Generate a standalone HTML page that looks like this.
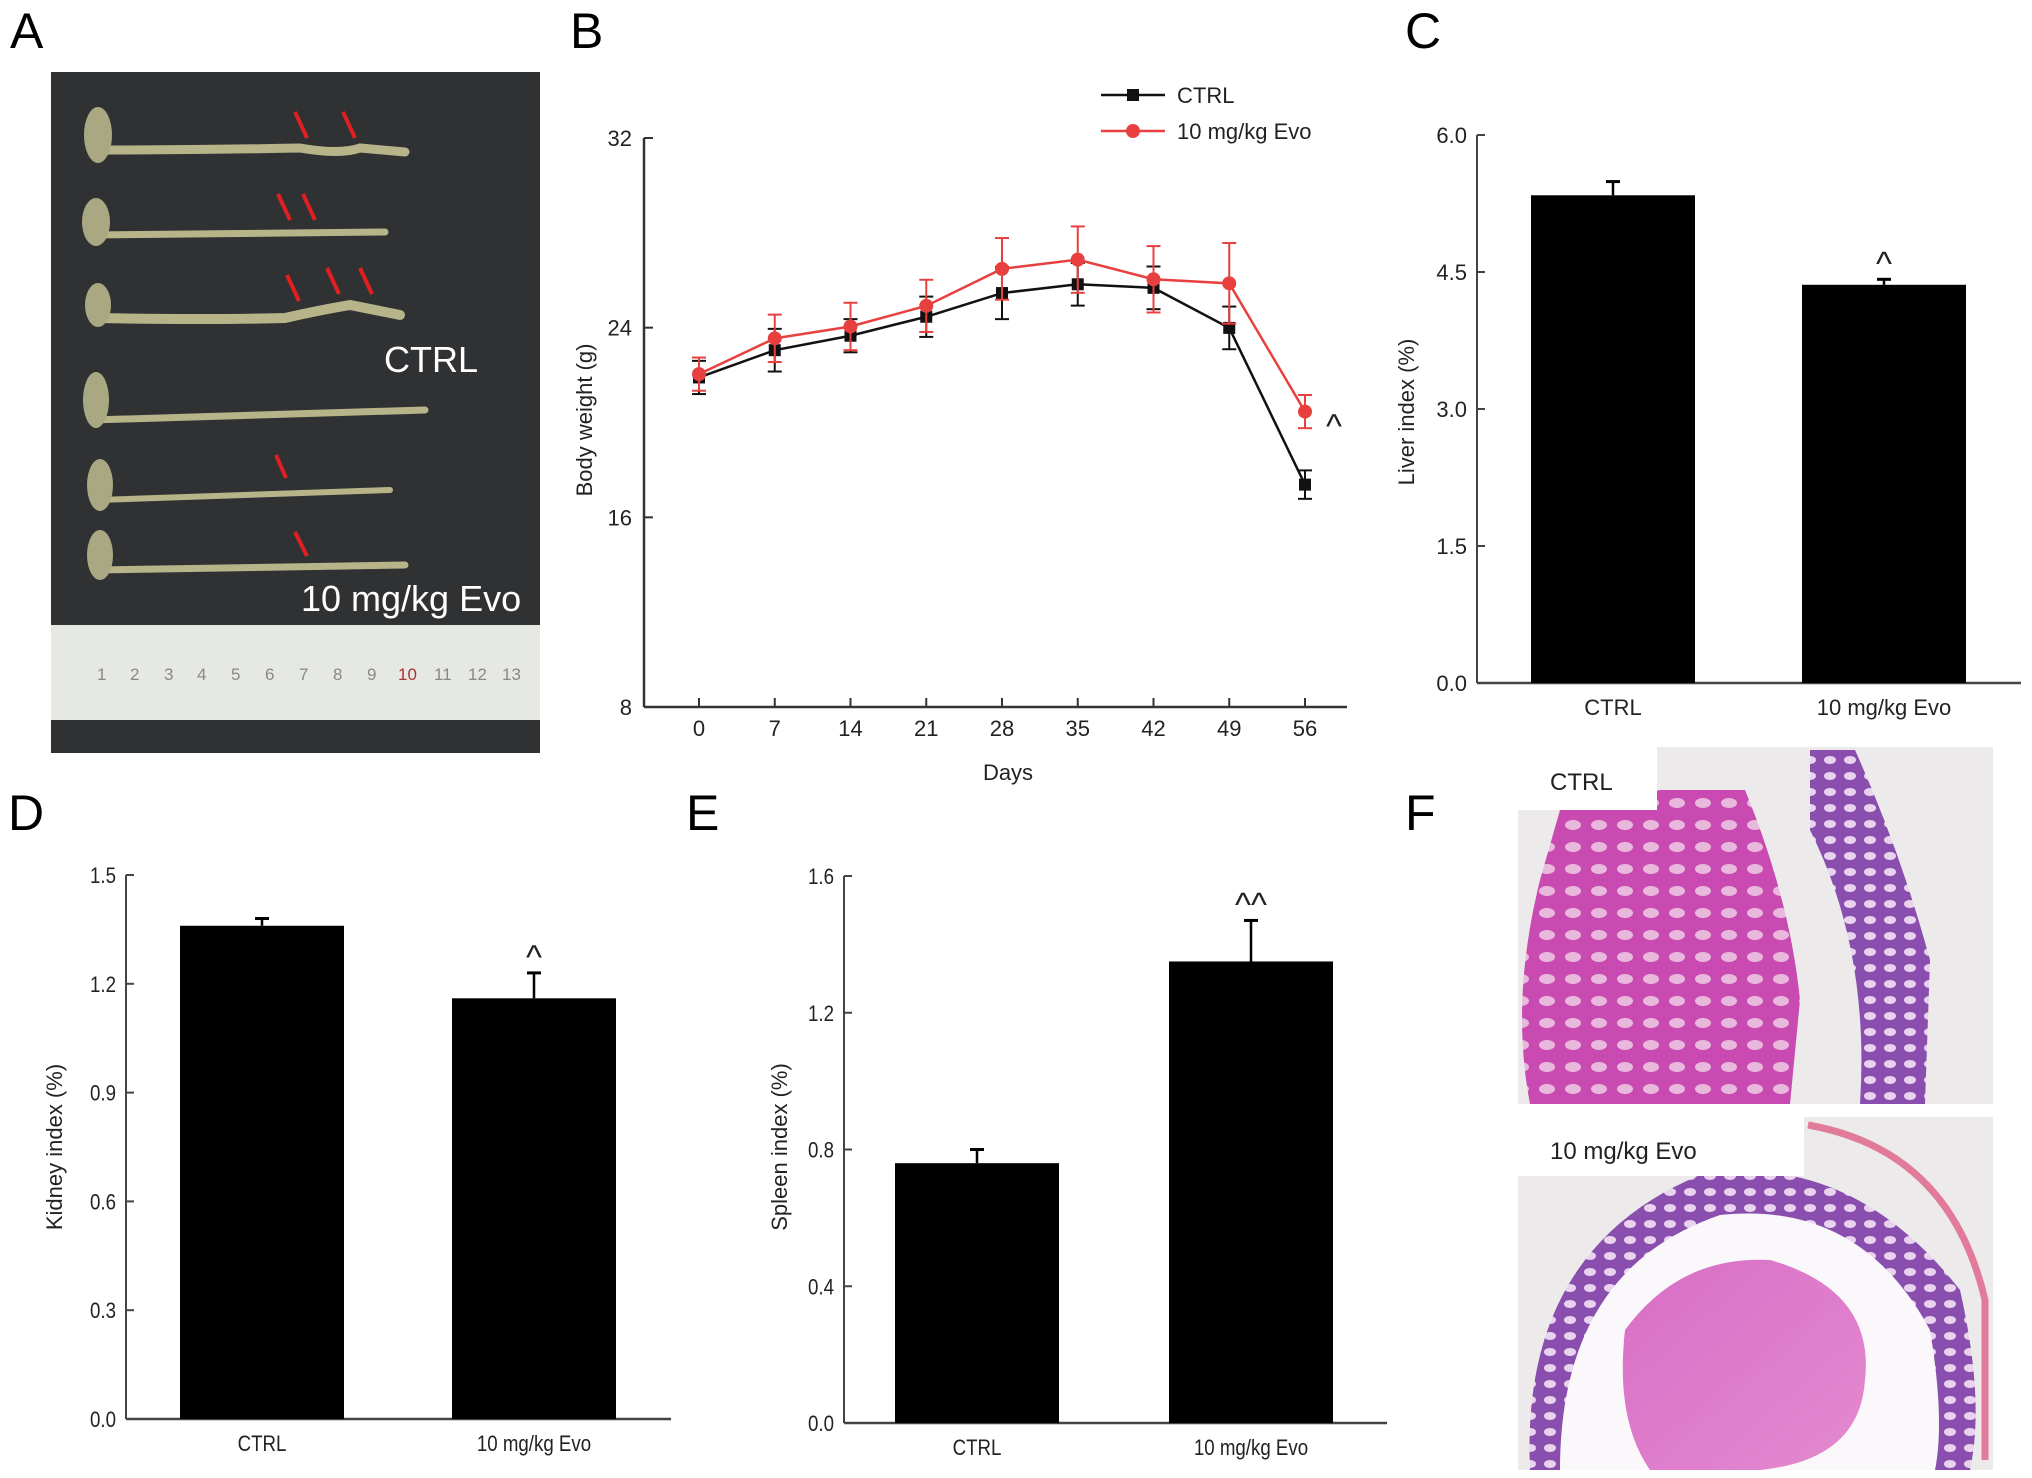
<!DOCTYPE html>
<html><head><meta charset="utf-8"><style>
html,body{margin:0;padding:0;background:#fff;}
svg{display:block;font-family:"Liberation Sans",Arial,sans-serif;}
</style></head><body>
<svg id="fig" width="2032" height="1478" viewBox="0 0 2032 1478">
<defs>
<pattern id="crypt" width="26" height="22" patternUnits="userSpaceOnUse">
<rect width="26" height="22" fill="#c94ab0"/>
<ellipse cx="13" cy="11" rx="8" ry="5" fill="#e8b9dc"/>
</pattern>
<pattern id="crypt2" width="20" height="16" patternUnits="userSpaceOnUse">
<rect width="20" height="16" fill="#8a4fae"/>
<ellipse cx="10" cy="8" rx="6" ry="4" fill="#e9d3ee"/>
</pattern>
<linearGradient id="tissue" x1="0" y1="0" x2="1" y2="1"><stop offset="0" stop-color="#d86ec6"/><stop offset="1" stop-color="#e48ad0"/></linearGradient>
</defs>

<text x="10" y="48" font-size="50">A</text>
<text x="570" y="48" font-size="50">B</text>
<text x="1405" y="48" font-size="50">C</text>
<text x="8" y="830" font-size="50">D</text>
<text x="686" y="830" font-size="50">E</text>
<text x="1405" y="830" font-size="50">F</text>

<g>
<rect x="51" y="72" width="489" height="681" fill="#2f3133"/>
<rect x="51" y="625" width="489" height="95" fill="#e6e8e4"/>
<g font-size="17" fill="#888">
<text x="97" y="680">1</text><text x="130" y="680">2</text><text x="164" y="680">3</text><text x="197" y="680">4</text><text x="231" y="680">5</text><text x="265" y="680">6</text><text x="299" y="680">7</text><text x="333" y="680">8</text><text x="367" y="680">9</text><text x="398" y="680" fill="#a33">10</text><text x="434" y="680">11</text><text x="468" y="680">12</text><text x="502" y="680">13</text>
</g>
<g fill="none" stroke="#b8b48a" stroke-linecap="round">
<path d="M100 150 Q200 150 300 148 Q340 155 360 148 L405 152" stroke-width="9"/>
<path d="M92 235 L385 232" stroke-width="7"/>
<path d="M95 318 Q200 320 285 318 Q320 310 350 305 L400 315" stroke-width="10"/>
<path d="M92 420 L425 410" stroke-width="7"/>
<path d="M98 500 L390 490" stroke-width="6"/>
<path d="M98 570 L405 565" stroke-width="7"/>
</g>
<g fill="#aaa882">
<ellipse cx="98" cy="135" rx="14" ry="28"/><ellipse cx="96" cy="222" rx="14" ry="24"/><ellipse cx="98" cy="305" rx="13" ry="22"/><ellipse cx="96" cy="400" rx="13" ry="28"/><ellipse cx="100" cy="485" rx="13" ry="26"/><ellipse cx="100" cy="555" rx="13" ry="25"/>
</g>
<g stroke="#e02020" stroke-width="4">
<line x1="295" y1="112" x2="307" y2="138"/><line x1="343" y1="112" x2="355" y2="138"/>
<line x1="278" y1="194" x2="290" y2="220"/><line x1="303" y1="194" x2="315" y2="220"/>
<line x1="287" y1="275" x2="299" y2="301"/><line x1="327" y1="268" x2="339" y2="294"/><line x1="360" y1="268" x2="372" y2="294"/>
<line x1="276" y1="455" x2="286" y2="478"/>
<line x1="295" y1="532" x2="307" y2="556"/>
</g>
<text x="384" y="372" font-size="36" fill="#fff">CTRL</text>
<text x="301" y="611" font-size="36" fill="#fff">10 mg/kg Evo</text>
</g>

<g id="chartB"></g>
<g id="chartC"></g>
<g id="chartD"></g>
<g id="chartE"></g>

<g>
<rect x="1518" y="747" width="475" height="357" fill="#eceaea"/>
<path d="M1560 810 L1660 790 L1745 790 Q1790 900 1800 1000 L1790 1104 L1530 1104 Q1510 1000 1540 880 Z" fill="url(#crypt)"/>
<path d="M1810 750 L1855 750 Q1900 850 1930 960 L1925 1104 L1860 1104 Q1870 950 1810 830 Z" fill="url(#crypt2)"/>
<rect x="1518" y="747" width="139" height="63" fill="#fff"/>
<text x="1550" y="790" font-size="24" fill="#222">CTRL</text>
</g>
<g>
<rect x="1518" y="1117" width="475" height="353" fill="#eceaea"/>
<path d="M1530 1470 Q1520 1250 1700 1175 Q1850 1150 1960 1290 Q1985 1400 1970 1470 Z" fill="url(#crypt2)"/>
<path d="M1560 1470 Q1560 1270 1720 1215 Q1860 1200 1930 1330 Q1945 1420 1935 1470 Z" fill="#fbf8fb"/>
<path d="M1625 1330 Q1680 1255 1770 1260 Q1875 1290 1865 1380 Q1860 1460 1760 1470 L1650 1470 Q1615 1420 1625 1330 Z" fill="url(#tissue)"/>
<path d="M1808 1125 Q1950 1150 1985 1300 L1985 1460" fill="none" stroke="#e27a9a" stroke-width="7"/>
<rect x="1518" y="1117" width="286" height="59" fill="#fff"/>
<text x="1550" y="1159" font-size="24" fill="#222">10 mg/kg Evo</text>
</g>
</svg>
<script>
const NS='http://www.w3.org/2000/svg';
function mk(parent,tag,attrs,text){const e=document.createElementNS(NS,tag);for(const k in attrs)e.setAttribute(k,attrs[k]);if(text!==undefined)e.textContent=text;parent.appendChild(e);return e;}

const days=[0,7,14,21,28,35,42,49,56];
const ctrlWeight=[21.9,23.05,23.66,24.46,25.46,25.83,25.68,23.99,17.38];
const ctrlErr=[0.7,0.9,0.7,0.85,1.1,0.9,0.9,0.9,0.6];
const evoWeight=[22.04,23.55,24.05,24.92,26.48,26.87,26.04,25.87,20.46];
const evoErr=[0.7,1.0,1.0,1.1,1.3,1.4,1.4,1.7,0.7];
const weightTicks=[8,16,24,32];

const barCategories=['CTRL','10 mg/kg Evo'];
const liverValues=[5.34,4.36];
const liverErr=[0.15,0.06];
const liverTicks=['0.0','1.5','3.0','4.5','6.0'];
const kidneyValues=[1.36,1.16];
const kidneyErr=[0.02,0.07];
const kidneyTicks=['0.0','0.3','0.6','0.9','1.2','1.5'];
const spleenValues=[0.76,1.35];
const spleenErr=[0.04,0.12];
const spleenTicks=['0.0','0.4','0.8','1.2','1.6'];
const liverSig=['','^'];
const kidneySig=['','^'];
const spleenSig=['','^^'];

(function(){
const g=document.getElementById('chartB');
const x0=644,xEnd=1347,yTop=138,yBot=707;
const xS=d=>699+(d-0)*(1305-699)/56;
const yS=v=>yBot-(v-8)*(yBot-yTop)/24;
let ax=mk(g,'line',{x1:x0,y1:yTop,x2:x0,y2:yBot,stroke:'#333','stroke-width':2.5});

ax=mk(g,'line',{x1:x0,y1:yBot,x2:xEnd,y2:yBot,stroke:'#333','stroke-width':2.5});

weightTicks.forEach(t=>{const y=yS(t);
mk(g,'line',{x1:x0,y1:y,x2:x0+9,y2:y,stroke:'#333','stroke-width':2});
const l=mk(g,'text',{x:x0-12,y:y+8,'font-size':22,'text-anchor':'end',fill:'#222'},t);
});
days.forEach(d=>{const x=xS(d);
mk(g,'line',{x1:x,y1:yBot,x2:x,y2:yBot-9,stroke:'#333','stroke-width':2});
const l=mk(g,'text',{x:x,y:736,'font-size':22,'text-anchor':'middle',fill:'#222'},d);
});
let t=mk(g,'text',{x:1008,y:780,'font-size':22,'text-anchor':'middle',fill:'#222'},'Days');

t=mk(g,'text',{x:0,y:0,'font-size':22,'text-anchor':'middle',fill:'#222',transform:'translate(592,420) rotate(-90)'},'Body weight (g)');

function series(vals,errs,color,shape,name){
const sg=mk(g,'g',{});

mk(sg,'polyline',{points:vals.map((v,i)=>xS(days[i])+','+yS(v)).join(' '),fill:'none',stroke:color,'stroke-width':2.5});
vals.forEach((v,i)=>{const x=xS(days[i]),y1=yS(v+errs[i]),y2=yS(v-errs[i]);
mk(sg,'line',{x1:x,y1:y1,x2:x,y2:y2,stroke:color,'stroke-width':2});
mk(sg,'line',{x1:x-7,y1:y1,x2:x+7,y2:y1,stroke:color,'stroke-width':2});
mk(sg,'line',{x1:x-7,y1:y2,x2:x+7,y2:y2,stroke:color,'stroke-width':2});
let m;
if(shape==='sq')m=mk(sg,'rect',{x:x-6,y:yS(v)-6,width:12,height:12,fill:color});
else m=mk(sg,'circle',{cx:x,cy:yS(v),r:7,fill:color});
});}
series(ctrlWeight,ctrlErr,'#111','sq','ctrl-series');
series(evoWeight,evoErr,'#e8403f','ci','evo-series');
t=mk(g,'text',{x:1334,y:438,'font-size':34,'text-anchor':'middle',fill:'#222'},'^');

const lg=mk(g,'g',{});
mk(lg,'line',{x1:1101,y1:95,x2:1165,y2:95,stroke:'#111','stroke-width':2.5});
mk(lg,'rect',{x:1127,y:89,width:12,height:12,fill:'#111'});
let le=mk(lg,'text',{x:1177,y:103,'font-size':22,fill:'#222'},'CTRL');

mk(lg,'line',{x1:1101,y1:131,x2:1165,y2:131,stroke:'#e8403f','stroke-width':2.5});
mk(lg,'circle',{cx:1133,cy:131,r:7,fill:'#e8403f'});
le=mk(lg,'text',{x:1177,y:139,'font-size':22,fill:'#222'},'10 mg/kg Evo');

})();

function barChart(id,cfg,values,errs,ticks,sig){
const g=document.getElementById(id);
const yS=v=>cfg.yBot-v*(cfg.yBot-cfg.yTop)/cfg.max;
let ax=mk(g,'line',{x1:cfg.x0,y1:cfg.yTop,x2:cfg.x0,y2:cfg.yBot,stroke:'#444','stroke-width':2});

ax=mk(g,'line',{x1:cfg.x0,y1:cfg.yBot,x2:cfg.xEnd,y2:cfg.yBot,stroke:'#444','stroke-width':2.5});

ticks.forEach(tk=>{const y=yS(parseFloat(tk));
mk(g,'line',{x1:cfg.x0,y1:y,x2:cfg.x0+8,y2:y,stroke:'#444','stroke-width':2});
const l=mk(g,'text',{x:0,y:0,'font-size':22,'text-anchor':'end',fill:'#222',transform:`translate(${cfg.x0-10},${y+8}) scale(${cfg.sx},1)`},tk);
});
values.forEach((v,i)=>{const bx=cfg.bars[i],w=cfg.bw,y=yS(v),ye=yS(v+errs[i]);
const b=mk(g,'rect',{x:bx,y:y,width:w,height:cfg.yBot-y,fill:'#000'});

mk(g,'line',{x1:bx+w/2,y1:y,x2:bx+w/2,y2:ye,stroke:'#000','stroke-width':2.5});
mk(g,'line',{x1:bx+w/2-7,y1:ye,x2:bx+w/2+7,y2:ye,stroke:'#000','stroke-width':3});
const l=mk(g,'text',{x:0,y:0,'font-size':22,'text-anchor':'middle',fill:'#222',transform:`translate(${bx+w/2},${cfg.yBot+32}) scale(${cfg.sx},1)`},barCategories[i]);

if(sig[i]){const s=mk(g,'text',{x:bx+w/2,y:ye-4,'font-size':34,'text-anchor':'middle',fill:'#222'},sig[i]);
}});
const t=mk(g,'text',{x:0,y:0,'font-size':22,'text-anchor':'middle',fill:'#222',transform:`translate(${cfg.titleX},${cfg.titleY}) rotate(-90)`},cfg.title);

}
barChart('chartC',{x0:1477,xEnd:2021,yTop:135,yBot:683,max:6,bars:[1531,1802],bw:164,sx:1,title:'Liver index (%)',titleX:1414,titleY:412},liverValues,liverErr,liverTicks,liverSig);
barChart('chartD',{x0:126,xEnd:671,yTop:875,yBot:1419,max:1.5,bars:[180,452],bw:164,sx:0.85,title:'Kidney index (%)',titleX:62,titleY:1147},kidneyValues,kidneyErr,kidneyTicks,kidneySig);
barChart('chartE',{x0:844,xEnd:1387,yTop:876,yBot:1423,max:1.6,bars:[895,1169],bw:164,sx:0.85,title:'Spleen index (%)',titleX:787,titleY:1147},spleenValues,spleenErr,spleenTicks,spleenSig);
</script>
</body></html>
